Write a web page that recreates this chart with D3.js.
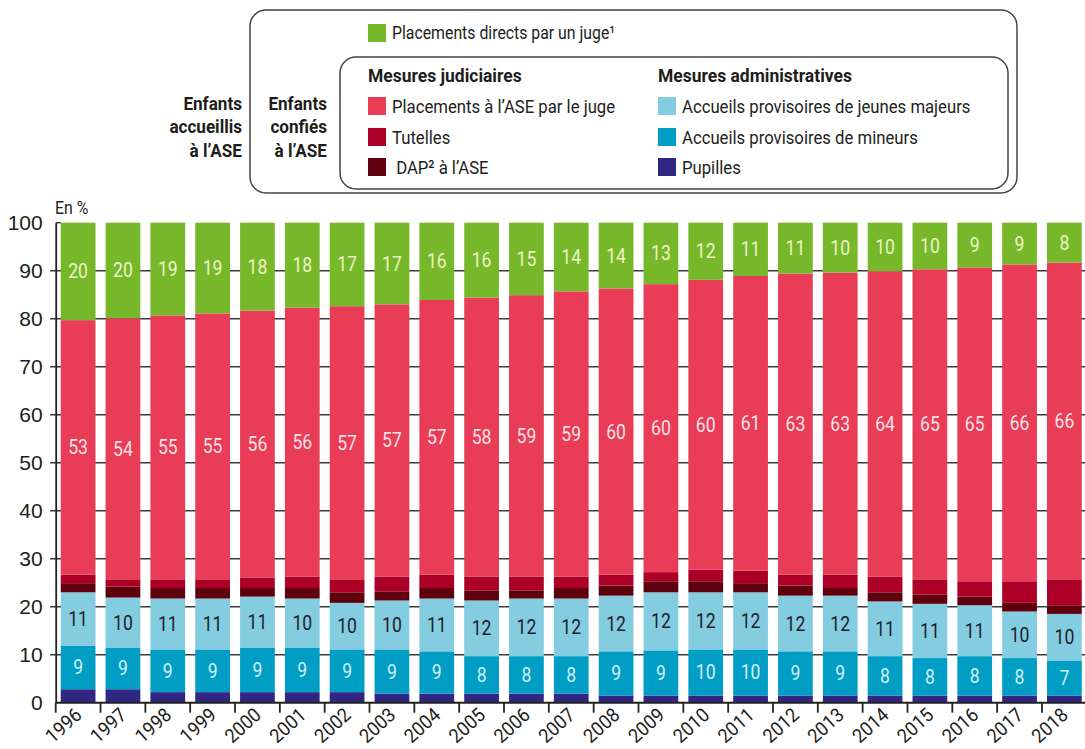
<!DOCTYPE html>
<html lang="fr">
<head>
<meta charset="UTF-8">
<title>Enfants accueillis à l'ASE</title>
<script src="https://d3js.org/d3.v7.min.js"></script>
<style>
    body { margin: 0; background: #fff; }
    svg { font-family: "Roboto", "Liberation Sans", sans-serif; }
    .txt { fill: #1d1d1b; }
</style>
</head>
<body>
<svg id="chart" width="1085" height="749"></svg>
<script>
    // data (%)
    const years = ["1996","1997","1998","1999","2000","2001","2002","2003","2004","2005","2006","2007",
        "2008","2009","2010","2011","2012","2013","2014","2015","2016","2017","2018"];
    const pupilles = [2.8,2.8,2.2,2.2,2.2,2.2,2.2,1.9,1.9,1.9,1.9,1.9,1.5,1.5,1.5,1.5,1.5,1.5,1.5,1.5,1.5,1.5,1.5];
    const mineurs = [9.1,8.7,8.9,8.9,9.3,9.3,8.9,9.2,8.8,7.8,7.8,7.8,9.2,9.4,9.6,9.6,9.2,9.2,8.2,7.8,8.2,7.8,7.3];
    const jeunesMajeurs = [11.1,10.4,10.6,10.6,10.6,10.2,9.7,10.2,11.0,11.6,12.0,12.0,11.6,12.1,11.9,11.9,11.6,11.6,11.4,11.3,10.6,9.7,9.7];
    const dap = [1.9,2.3,2.2,2.2,1.8,2.2,2.2,1.9,2.2,2.1,1.7,2.2,2.1,2.3,2.3,1.9,2.1,1.6,1.9,1.9,1.8,1.8,1.8];
    const tutelles = [1.8,1.5,1.8,1.8,2.2,2.4,2.7,3.1,2.8,2.9,2.9,2.4,2.3,1.9,2.4,2.6,2.3,2.8,3.3,3.2,3.2,4.5,5.4];
    const placementsJuge = [53.0,54.4,55.0,55.4,55.6,56.0,56.9,56.7,57.2,58.1,58.6,59.4,59.6,60.0,60.4,61.4,62.7,62.9,63.6,64.6,65.4,66.0,66.0];
    const placementsDirects = [20.3,19.9,19.3,18.9,18.3,17.7,17.4,17.0,16.1,15.6,15.1,14.3,13.7,12.8,11.9,11.1,10.6,10.4,10.1,9.7,9.3,8.7,8.3];
    const yTicks = [0,10,20,30,40,50,60,70,80,90,100];

    // series, bottom to top
    const series = [
        {key: "pupilles", values: pupilles, color: "#312783", label: null},
        {key: "mineurs", values: mineurs, color: "#009ec4", label: "#d3f0f7"},
        {key: "jeunesMajeurs", values: jeunesMajeurs, color: "#84cde1", label: "#1d1d2b"},
        {key: "dap", values: dap, color: "#5e000e", label: null},
        {key: "tutelles", values: tutelles, color: "#ad0028", label: null},
        {key: "placementsJuge", values: placementsJuge, color: "#e83c57", label: "#fde3e8"},
        {key: "placementsDirects", values: placementsDirects, color: "#77b82a", label: "#eef3c6"}
    ];

    const table = years.map((y, i) => {
        const row = {year: y};
        series.forEach(s => row[s.key] = s.values[i]);
        return row;
    });
    const stacked = d3.stack().keys(series.map(s => s.key))(table);

    const svg = d3.select("#chart");
    const x = d3.scaleBand().domain(years).range([55.7, 1086.8]).paddingInner(0.225).paddingOuter(0.1125);
    const y = d3.scaleLinear().domain([0, 100]).range([702.7, 222.7]);
    const gap = x.step() * x.paddingInner() / 2;
    const narrow = "scale(0.88,1)";

    // gridlines behind bars
    svg.append("g").selectAll("line")
        .data(yTicks.filter(t => t > 0 && t < 100))
        .join("line")
        .attr("x1", 50).attr("x2", 1085)
        .attr("y1", d => y(d)).attr("y2", d => y(d))
        .attr("stroke", "#3a3a3a").attr("stroke-width", 1.5);
    svg.append("line")
        .attr("x1", 55.7).attr("x2", x(years[0]))
        .attr("y1", y(100)).attr("y2", y(100))
        .attr("stroke", "#3a3a3a").attr("stroke-width", 1.5);

    // bars
    const layers = svg.append("g").selectAll("g")
        .data(stacked)
        .join("g")
        .attr("fill", (d, i) => series[i].color);
    layers.selectAll("rect")
        .data(d => d)
        .join("rect")
        .attr("x", d => x(d.data.year))
        .attr("width", x.bandwidth())
        .attr("y", d => y(d[1]))
        .attr("height", d => y(d[0]) - y(d[1]));

    // value labels
    stacked.forEach((layer, i) => {
        if (!series[i].label) return;
        svg.append("g").selectAll("text")
            .data(layer)
            .join("text")
            .attr("transform", d => `translate(${x(d.data.year) + x.bandwidth() / 2},${(y(d[0]) + y(d[1])) / 2}) ${narrow}`)
            .attr("dy", "0.35em")
            .attr("text-anchor", "middle")
            .attr("font-size", 20)
            .attr("fill", series[i].label)
            .text(d => Math.round(d[1] - d[0]));
    });

    // y axis
    const yAxis = svg.append("g")
        .attr("transform", "translate(55.7,0)")
        .call(d3.axisLeft(y).tickValues(yTicks).tickSize(0).tickPadding(13));
    yAxis.select(".domain").attr("stroke", "#222").attr("stroke-width", 1.8);
    yAxis.selectAll("text").attr("class", "txt").attr("font-size", 21).attr("font-family", null);

    // x axis
    svg.append("line")
        .attr("x1", 55.7).attr("x2", 1085)
        .attr("y1", y(0)).attr("y2", y(0))
        .attr("stroke", "#222").attr("stroke-width", 2);
    svg.append("g").selectAll("line")
        .data(years)
        .join("line")
        .attr("x1", d => x(d) - gap).attr("x2", d => x(d) - gap)
        .attr("y1", y(0)).attr("y2", y(0) + 10)
        .attr("stroke", "#222").attr("stroke-width", 1.8);
    svg.append("g").selectAll("text")
        .data(years)
        .join("text")
        .attr("class", "txt")
        .attr("font-size", 19.5)
        .attr("text-anchor", "end")
        .attr("transform", d => `translate(${x(d) + x.bandwidth() / 2 + 5},${y(0) + 14}) rotate(-42) scale(0.93,1)`)
        .text(d => d);

    svg.append("text").attr("class", "txt")
        .attr("transform", `translate(55,214) ${narrow}`).attr("font-size", 18)
        .text("En %");

    // legend
    svg.append("rect")
        .attr("x", 250).attr("y", 10).attr("width", 767).attr("height", 183)
        .attr("rx", 16).attr("fill", "none").attr("stroke", "#444").attr("stroke-width", 1.5);
    svg.append("rect")
        .attr("x", 340).attr("y", 57).attr("width", 668).attr("height", 132)
        .attr("rx", 16).attr("fill", "none").attr("stroke", "#444").attr("stroke-width", 1.5);

    const legendItems = [
        {s: "placementsDirects", text: "Placements directs par un juge¹", x: 368, y: 33},
        {s: "placementsJuge", text: "Placements à l’ASE par le juge", x: 368, y: 106},
        {s: "tutelles", text: "Tutelles", x: 368, y: 137},
        {s: "dap", text: " DAP² à l’ASE", x: 368, y: 167},
        {s: "jeunesMajeurs", text: "Accueils provisoires de jeunes majeurs", x: 658, y: 106},
        {s: "mineurs", text: "Accueils provisoires de mineurs", x: 658, y: 137},
        {s: "pupilles", text: "Pupilles", x: 658, y: 167}
    ];
    const lg = svg.append("g").selectAll("g")
        .data(legendItems)
        .join("g")
        .attr("transform", d => `translate(${d.x},${d.y})`);
    lg.append("rect")
        .attr("y", -9).attr("width", 18).attr("height", 18)
        .attr("fill", d => series.find(s => s.key === d.s).color);
    lg.append("text").attr("class", "txt")
        .attr("transform", `translate(24,0) ${narrow}`)
        .attr("dy", "0.35em").attr("font-size", (d, i) => i === 0 ? 18 : 19)
        .attr("xml:space", "preserve")
        .text(d => d.text);

    svg.append("text").attr("class", "txt")
        .attr("transform", "translate(368,82) scale(0.92,1)").attr("font-size", 19).attr("font-weight", "bold")
        .text("Mesures judiciaires");
    svg.append("text").attr("class", "txt")
        .attr("transform", "translate(658,82) scale(0.92,1)").attr("font-size", 19).attr("font-weight", "bold")
        .text("Mesures administratives");

    const sideLabels = [
        {lines: ["Enfants", "accueillis", "à l’ASE"], x: 242},
        {lines: ["Enfants", "confiés", "à l’ASE"], x: 327}
    ];
    sideLabels.forEach(g => {
        svg.append("text").attr("class", "txt")
            .attr("transform", `translate(${g.x},0) scale(0.9,1)`)
            .attr("text-anchor", "end").attr("font-size", 19).attr("font-weight", "bold")
            .selectAll("tspan")
            .data(g.lines)
            .join("tspan")
            .attr("x", 0)
            .attr("y", (d, i) => 110 + i * 23.5)
            .text(d => d);
    });
</script>
</body>
</html>
